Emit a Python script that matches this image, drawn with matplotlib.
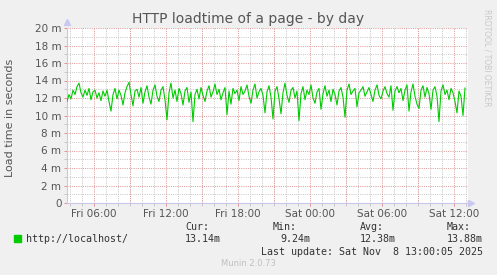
import numpy as np
import matplotlib
matplotlib.use("Agg")
import matplotlib.pyplot as plt
from matplotlib.ticker import MultipleLocator, FuncFormatter

# load time in ms, one sample every 10 minutes starting Fri 03:45
loadtime = [
    11.6, 12.4, 11.9, 12.9, 12.4, 13.3, 13.7, 12.6, 12.1, 12.9,
    12.3, 13.1, 11.8, 12.7, 12.9, 12.0, 12.6, 11.7, 12.8, 12.2,
    12.9, 11.6, 10.5, 12.4, 13.1, 11.9, 12.9, 12.3, 11.2, 12.6,
    13.3, 13.8, 12.4, 11.1, 12.8, 13.0, 12.1, 13.2, 11.4, 12.7,
    13.4, 12.1, 11.3, 12.9, 13.5, 12.2, 11.6, 12.9, 13.3, 11.8,
    9.5, 12.6, 13.7, 12.0, 12.9, 11.6, 13.1, 12.5, 11.2, 12.8,
    13.2, 11.5, 12.7, 9.3, 12.4, 13.0, 11.9, 13.2, 12.3, 11.6,
    12.8, 13.4, 12.1, 12.7, 13.6, 12.4, 13.0, 11.8, 12.6, 13.2,
    10.1, 12.8, 11.3, 13.1, 12.5, 12.9, 11.7, 13.3, 12.4, 12.8,
    13.5, 12.2, 11.4, 12.9, 13.6, 12.0, 12.7, 13.1, 12.3, 10.3,
    12.7, 13.4, 12.1, 9.6, 12.8, 13.3, 11.9, 10.2, 12.6, 13.7,
    12.3, 11.5, 12.9, 13.2, 12.0, 12.8, 9.4, 12.5, 13.3, 11.8,
    12.9, 12.4, 13.5, 12.0, 11.4, 12.7, 13.1, 10.7, 12.5, 13.4,
    12.2, 12.9, 11.6, 13.0, 12.4, 11.2, 12.8, 13.2, 12.1, 9.8,
    12.9, 13.6, 12.4, 12.8, 13.1, 11.0, 12.6, 12.9, 13.3, 12.2,
    12.7, 13.2, 12.4, 11.6, 12.9, 13.5, 12.3, 11.9, 12.8, 13.3,
    12.5, 12.1, 13.4, 10.6, 12.8, 13.3, 12.6, 13.1, 11.7, 12.9,
    13.5, 10.5, 12.7, 13.6, 12.2, 11.3, 10.8, 12.9, 13.4, 12.1,
    13.2, 12.5, 10.7, 12.9, 13.3, 12.2, 9.3, 12.8, 13.5, 12.4,
    12.9, 11.8, 13.1, 12.6, 11.6, 10.3, 12.8, 12.2, 10.0, 13.14,
]
start_hour = 3.75  # hours since Fri 00:00
hours = start_hour + np.arange(len(loadtime)) / 6.0

stats_labels = ["Cur:", "Min:", "Avg:", "Max:"]
stats_values = ["13.14m", "9.24m", "12.38m", "13.88m"]
series_name = "http://localhost/"
title = "HTTP loadtime of a page - by day"
last_update = "Last update: Sat Nov  8 13:00:05 2025"

W, H = 497, 275
fig = plt.figure(figsize=(W / 100, H / 100), dpi=100, facecolor="#f0f0f0")
ax = fig.add_axes([67 / W, 1 - 203 / H, 401 / W, 175 / H])
ax.set_facecolor("white")

ax.plot(hours, loadtime, color="#00cc00", lw=0.8, zorder=3)

ax.set_xlim(start_hour, start_hour + 401 / 12)
ax.set_ylim(0, 20)

ax.xaxis.set_major_locator(MultipleLocator(6))
ax.xaxis.set_minor_locator(MultipleLocator(1))
ax.yaxis.set_major_locator(MultipleLocator(2))
ax.yaxis.set_minor_locator(MultipleLocator(1))

def xfmt(v, pos):
    day = "Fri" if v < 24 else "Sat"
    return "%s %02d:00" % (day, int(round(v)) % 24)

ax.xaxis.set_major_formatter(FuncFormatter(xfmt))
ax.yaxis.set_major_formatter(FuncFormatter(lambda v, p: "0" if v == 0 else "%g m" % v))

# grid: grey dotted minor, red dotted major (every 3 h / 2 m)
dots = (0, (1, 1.2))
ax.grid(which="minor", color="#c8c8c8", lw=0.72, ls=dots)
for hh in np.arange(6, 40, 3):
    ax.axvline(hh, color="#e09a9a", lw=0.72, ls=dots, zorder=1)
for yy in np.arange(2, 21, 2):
    ax.axhline(yy, color="#e09a9a", lw=0.72, ls=dots, zorder=1)
ax.set_axisbelow(True)

for s in ["top", "right"]:
    ax.spines[s].set_visible(False)
for s in ["left", "bottom"]:
    ax.spines[s].set_color("#c8c8e8")
    ax.spines[s].set_linewidth(0.8)

ax.tick_params(which="both", colors="#e08080", length=2, width=0.6,
               labelcolor="#555555", labelsize=7.5, pad=2)
ax.tick_params(which="minor", colors="#c0c0c0")

# axis arrows
ax.plot([0], [1.035], marker="^", color="#c8c8f0", ms=4, transform=ax.transAxes, clip_on=False)
ax.plot([1.008], [0], marker=">", color="#c8c8f0", ms=4, transform=ax.transAxes, clip_on=False)

fig.text(0.5, 1 - 19 / H, title, ha="center", va="center", fontsize=10, color="#555555")
fig.text(10 / W, 1 - 118 / H, "Load time in seconds", rotation=90, ha="center",
         va="center", fontsize=8, color="#555555")
fig.text(487 / W, 1 - 58 / H, "RRDTOOL / TOBI OETIKER", rotation=270, ha="center",
         va="center", fontsize=5.5, color="#c8c8c8")

mono = dict(family="DejaVu Sans Mono", fontsize=7.2, color="#333333", va="center")
fig.patches.append(plt.Rectangle((14 / W, 1 - 242 / H), 7 / W, 7 / H,
                                 transform=fig.transFigure, color="#00cc00"))
fig.text(26 / W, 1 - 239 / H, series_name, **mono)
label_x = [185, 273, 360, 447]
value_x = [185, 280, 360, 447]
for lx, vx, lab, val in zip(label_x, value_x, stats_labels, stats_values):
    fig.text(lx / W, 1 - 227 / H, lab, **mono)
    fig.text(vx / W, 1 - 239 / H, val, **mono)
fig.text(261 / W, 1 - 252 / H, last_update, **mono)
fig.text(248 / W, 1 - 264 / H, "Munin 2.0.73", ha="center", va="center",
         fontsize=6, color="#c0c0c0")

fig.savefig("out.png", dpi=100, facecolor=fig.get_facecolor())
